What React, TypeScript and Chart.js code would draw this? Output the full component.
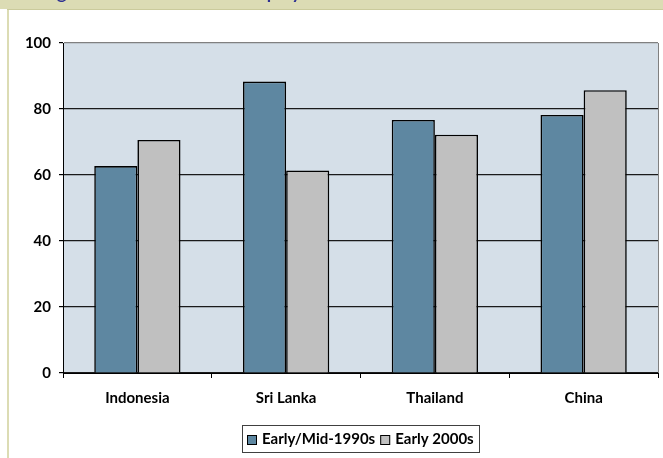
import { useEffect, useRef } from 'react';
import { Chart, registerables } from 'chart.js';

Chart.register(...registerables);

// Data
const countries = ['Indonesia', 'Sri Lanka', 'Thailand', 'China'];
const earlyMid1990s = [62.7, 88.3, 76.7, 78.2];
const early2000s = [70.6, 61.4, 72.2, 85.7];
const seriesNames = ['Early/Mid-1990s', 'Early 2000s'];
const yTicks = [0, 20, 40, 60, 80, 100];
const titleText = 'Figure 4: Share of formal employment';

const FONT = 'Lato';
const BLUE = '#5e87a1';
const GREY = '#c0c0c0';
const PLOT_BG = '#d5dfe8';
const KHAKI = '#dcdcb4';

const framePlugin = {
  id: 'frame',
  beforeDraw(chart: any) {
    const { ctx, width, height, chartArea: a } = chart;
    ctx.save();
    ctx.fillStyle = '#ffffff';
    ctx.fillRect(0, 0, width, height);
    // header band
    ctx.fillStyle = KHAKI;
    ctx.fillRect(0, 0, width, 9);
    ctx.fillStyle = '#cbcb9c';
    ctx.fillRect(7, 9, width - 7, 1);
    // left frame edge
    ctx.fillStyle = KHAKI;
    ctx.fillRect(7, 10, 2, height - 10);
    // header title (sits mostly above the visible band)
    ctx.font = `bold 16px ${FONT}`;
    const wPre = ctx.measureText('Fi').width;
    const wToP = ctx.measureText('Figure 4: Share of formal em').width;
    const k = 210 / (wToP - wPre);
    ctx.font = `bold ${16 * k}px ${FONT}`;
    ctx.fillStyle = '#2e3192';
    ctx.textBaseline = 'alphabetic';
    ctx.textAlign = 'left';
    ctx.fillText(titleText, 57 - wPre * k, -1);
    // plot background
    ctx.fillStyle = PLOT_BG;
    ctx.fillRect(a.left, a.top, a.right - a.left, a.bottom - a.top);
    ctx.restore();
  },
  afterDraw(chart: any) {
    const { ctx, chartArea: a } = chart;
    ctx.save();
    // plot frame right edge
    ctx.strokeStyle = '#808080';
    ctx.lineWidth = 1;
    ctx.beginPath();
    ctx.moveTo(Math.round(a.right) + 0.5, a.top);
    ctx.lineTo(Math.round(a.right) + 0.5, a.bottom);
    ctx.stroke();

    // legend box
    const ds = chart.data.datasets;
    ctx.font = `bold 15px ${FONT}`;
    const sw = 10;
    const gap = 5;
    const itemGap = 5;
    const pad = 5;
    const widths = ds.map((d: any) => ctx.measureText(d.label).width);
    let total = pad * 2 + itemGap * (ds.length - 1);
    widths.forEach((w: number) => (total += sw + gap + w));
    const cx = (a.left + a.right) / 2;
    const boxTop = 425;
    const boxH = 27;
    const left = Math.round(cx - total / 2);
    ctx.fillStyle = '#ffffff';
    ctx.fillRect(left, boxTop, total, boxH);
    ctx.strokeStyle = '#404040';
    ctx.strokeRect(left + 0.5, boxTop + 0.5, Math.round(total), boxH);
    let x = left + pad;
    const cy = boxTop + boxH / 2 + 1;
    ds.forEach((d: any, i: number) => {
      ctx.fillStyle = d.backgroundColor;
      ctx.fillRect(x, Math.round(cy - sw / 2), sw, sw);
      ctx.strokeStyle = '#000';
      ctx.strokeRect(x + 0.5, Math.round(cy - sw / 2) + 0.5, sw - 1, sw - 1);
      x += sw + gap;
      ctx.fillStyle = '#000';
      ctx.textBaseline = 'middle';
      ctx.textAlign = 'left';
      ctx.fillText(d.label, x, cy);
      x += widths[i] + itemGap;
    });
    ctx.restore();
  },
};

export default function App() {
  const ref = useRef<HTMLCanvasElement>(null);

  useEffect(() => {
    if (!ref.current) return;
    const chart = new Chart(ref.current, {
      type: 'bar',
      data: {
        labels: countries,
        datasets: [
          {
            label: seriesNames[0],
            data: earlyMid1990s,
            backgroundColor: BLUE,
            borderColor: '#000',
            borderWidth: 1.6,
          },
          {
            label: seriesNames[1],
            data: early2000s,
            backgroundColor: GREY,
            borderColor: '#000',
            borderWidth: 1.6,
          },
        ],
      },
      options: {
        responsive: false,
        animation: false,
        events: [],
        layout: { padding: { top: 43, right: 5, left: 0, bottom: 0 } },
        datasets: {
          bar: { categoryPercentage: 0.58, barPercentage: 1 },
        },
        plugins: {
          legend: { display: false },
          tooltip: { enabled: false },
          title: { display: false },
        },
        scales: {
          x: {
            afterFit: (s: any) => {
              s.height = 85;
            },
            grid: {
              offset: true,
              drawOnChartArea: false,
              drawTicks: true,
              tickLength: 5,
              tickColor: '#000',
            },
            border: { color: '#000', width: 1 },
            ticks: {
              color: '#000',
              padding: 11,
              font: { family: FONT, size: 15, weight: 'bold' },
            },
          },
          y: {
            min: 0,
            max: 100,
            afterFit: (s: any) => {
              s.width = 63;
            },
            afterBuildTicks: (s: any) => {
              s.ticks = yTicks.map((v) => ({ value: v }));
            },
            grid: {
              color: (c: any) => (c.tick && c.tick.value === 100 ? '#808080' : '#1a1a1a'),
              tickColor: '#000',
              tickLength: 4,
              lineWidth: 1.2,
            },
            border: { color: '#000', width: 1 },
            ticks: {
              color: '#000',
              padding: 8,
              font: { family: FONT, size: 15, weight: 'bold' },
            },
          },
        },
      },
      plugins: [framePlugin],
    });
    return () => chart.destroy();
  }, []);

  return (
    <div style={{ position: 'fixed', left: 0, top: 0, width: 663, height: 458 }}>
      <canvas ref={ref} width={663} height={458} style={{ display: 'block' }} />
    </div>
  );
}
